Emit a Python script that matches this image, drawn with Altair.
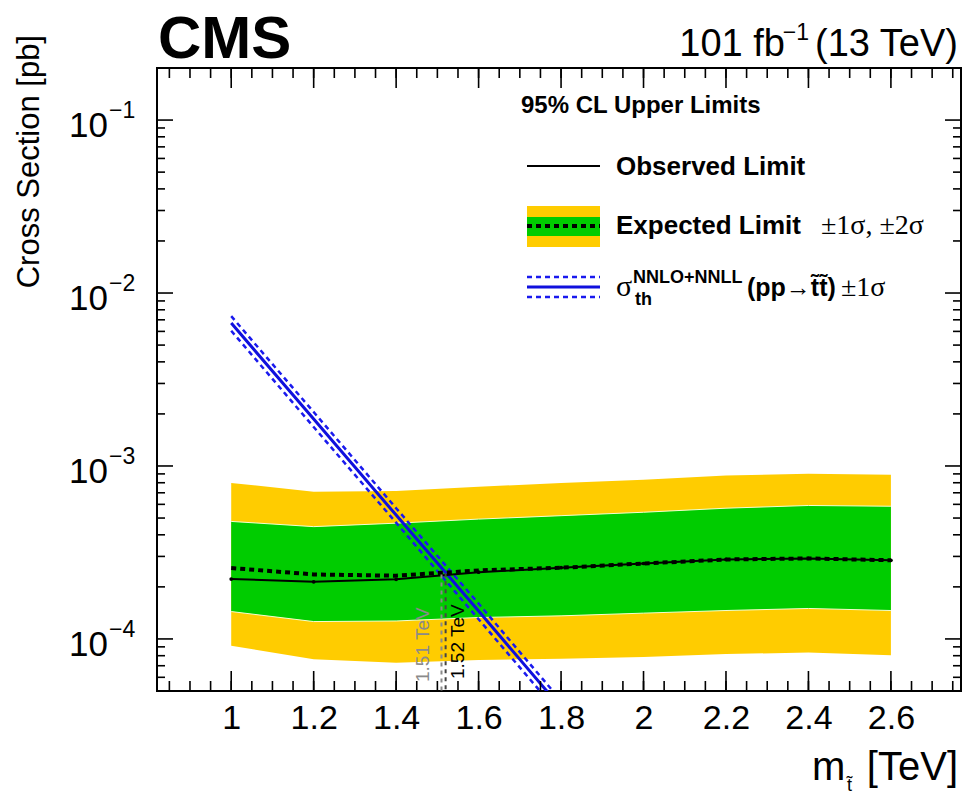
import altair as alt
import pandas as pd

# ---------------- data ----------------
mass = [1.0, 1.2, 1.4, 1.6, 1.8, 2.0, 2.2, 2.4, 2.6]
observed = [2.22e-4, 2.14e-4, 2.21e-4, 2.43e-4, 2.58e-4, 2.73e-4, 2.88e-4, 2.92e-4, 2.85e-4]
expected = [2.57e-4, 2.36e-4, 2.32e-4, 2.49e-4, 2.58e-4, 2.73e-4, 2.88e-4, 2.92e-4, 2.85e-4]
exp_p1 = [4.78e-4, 4.46e-4, 4.67e-4, 4.93e-4, 5.16e-4, 5.40e-4, 5.70e-4, 5.91e-4, 5.85e-4]
exp_m1 = [1.44e-4, 1.26e-4, 1.27e-4, 1.33e-4, 1.36e-4, 1.41e-4, 1.46e-4, 1.50e-4, 1.46e-4]
exp_p2 = [7.98e-4, 7.10e-4, 7.16e-4, 7.59e-4, 7.96e-4, 8.32e-4, 8.82e-4, 9.02e-4, 8.90e-4]
exp_m2 = [9.14e-5, 7.62e-5, 7.28e-5, 7.55e-5, 7.69e-5, 7.87e-5, 8.17e-5, 8.35e-5, 8.06e-5]

th_mass = [1.0, 1.2, 1.4, 1.6, 1.8]
th_xsec = [6.7e-3, 1.87e-3, 5.2e-4, 1.45e-4, 4.0e-5]
th_up = [7.35e-3, 2.05e-3, 5.7e-4, 1.6e-4, 4.4e-5]
th_dn = [6.05e-3, 1.68e-3, 4.7e-4, 1.3e-4, 3.6e-5]

cross_mass = [1.51, 1.52]
cross_xsec = [2.36e-4, 2.40e-4]
cross_labels = ["1.51 TeV", "1.52 TeV"]

x_major = [1.0, 1.2, 1.4, 1.6, 1.8, 2.0, 2.2, 2.4, 2.6]
x_minor = [round(0.85 + 0.05 * i, 2) for i in range(39)]
y_major = [1e-1, 1e-2, 1e-3, 1e-4]
y_exponents = ["\u22121", "\u22122", "\u22123", "\u22124"]
y_minor = [k * 10.0 ** e for e in (-5, -4, -3, -2, -1) for k in range(2, 10)
           if 5.2e-5 < k * 10.0 ** e < 0.19]

W, H = 804, 623
FONT = "Liberation Sans"
SERIF = "Liberation Serif"

xs = alt.Scale(domain=[0.82, 2.77], nice=False, zero=False)
ys = alt.Scale(type="log", domain=[5e-5, 0.2], nice=False)
xaxis = alt.Axis(values=x_major, format="~g", labelFont=FONT, labelFontSize=34,
                 labelColor="black", labelPadding=10, ticks=False, domain=False,
                 grid=False, title=None, labelOverlap=False, labelFlush=False)

band = pd.DataFrame({"mass": mass, "obs": observed, "exp": expected,
                     "p1": exp_p1, "m1": exp_m1, "p2": exp_p2, "m2": exp_m2})
th = pd.DataFrame({"mass": th_mass, "xs": th_xsec, "up": th_up, "dn": th_dn})
cross = pd.DataFrame({"mass": cross_mass, "xs": cross_xsec, "lab": cross_labels})


def X(f):
    return alt.X(f"{f}:Q", scale=xs, axis=xaxis)


def Y(f):
    return alt.Y(f"{f}:Q", scale=ys, axis=None)


base = alt.Chart(band)
yellow = base.mark_area(color="#FFCC00").encode(x=X("mass"), y=Y("m2"), y2="p2")
green = base.mark_area(color="#00CC00").encode(x=X("mass"), y=Y("m1"), y2="p1")
edge1 = base.mark_line(color="#F4FFD0", strokeWidth=1).encode(x=X("mass"), y=Y("p1"))
edge2 = base.mark_line(color="#F4FFD0", strokeWidth=1).encode(x=X("mass"), y=Y("m1"))
exp_line = base.mark_line(color="black", strokeWidth=4, strokeDash=[5, 4]).encode(x=X("mass"), y=Y("exp"))
obs_line = base.mark_line(color="black", strokeWidth=2).encode(x=X("mass"), y=Y("obs"))
obs_pts = base.mark_point(color="black", filled=True, size=14, opacity=1).encode(x=X("mass"), y=Y("obs"))

tb = alt.Chart(th)
th_up_l = tb.mark_line(color="#1a1aee", strokeWidth=2.5, strokeDash=[5, 4], clip=True).encode(x=X("mass"), y=Y("up"))
th_dn_l = tb.mark_line(color="#1a1aee", strokeWidth=2.5, strokeDash=[5, 4], clip=True).encode(x=X("mass"), y=Y("dn"))
th_l = tb.mark_line(color="#1010dd", strokeWidth=3, clip=True).encode(x=X("mass"), y=Y("xs"))

cb = alt.Chart(cross)
c1 = cb.transform_filter("datum.mass < 1.515")
c2 = cb.transform_filter("datum.mass > 1.515")
vl1 = c1.mark_rule(color="#8a8a8a", strokeWidth=2, strokeDash=[4, 4]).encode(x=X("mass"), y=Y("xs"), y2=alt.value(H))
vl2 = c2.mark_rule(color="#444444", strokeWidth=2, strokeDash=[4, 4]).encode(x=X("mass"), y=Y("xs"), y2=alt.value(H))
vt1 = c1.mark_text(angle=270, align="left", baseline="middle", font=FONT, fontSize=19,
                   color="#8a8a8a", xOffset=-18).encode(x=X("mass"), y=alt.value(614), text="lab:N")
vt2 = c2.mark_text(angle=270, align="left", baseline="middle", font=FONT, fontSize=19,
                   color="black", xOffset=12).encode(x=X("mass"), y=alt.value(611), text="lab:N")

# ticks inside frame
xmaj = alt.Chart(pd.DataFrame({"v": x_major}))
xmin = alt.Chart(pd.DataFrame({"v": x_minor}))
ymaj = alt.Chart(pd.DataFrame({"v": y_major, "e": y_exponents}))
ymin = alt.Chart(pd.DataFrame({"v": y_minor}))
tk = dict(color="black", strokeWidth=1.6)
ticks = [
    xmaj.mark_rule(**tk).encode(x=X("v"), y=alt.value(H), y2=alt.value(H - 20)),
    xmin.mark_rule(**tk).encode(x=X("v"), y=alt.value(H), y2=alt.value(H - 10)),
    xmaj.mark_rule(**tk).encode(x=X("v"), y=alt.value(0), y2=alt.value(20)),
    xmin.mark_rule(**tk).encode(x=X("v"), y=alt.value(0), y2=alt.value(10)),
    ymaj.mark_rule(**tk).encode(y=Y("v"), x=alt.value(0), x2=alt.value(16)),
    ymin.mark_rule(**tk).encode(y=Y("v"), x=alt.value(0), x2=alt.value(8)),
    ymaj.mark_rule(**tk).encode(y=Y("v"), x=alt.value(W), x2=alt.value(W - 16)),
    ymin.mark_rule(**tk).encode(y=Y("v"), x=alt.value(W), x2=alt.value(W - 8)),
]
ylab10 = ymaj.transform_calculate(t="'10'").mark_text(
    align="right", baseline="middle", font=FONT, fontSize=35, dy=6).encode(
    y=Y("v"), x=alt.value(-49), text="t:N")
ylabexp = ymaj.mark_text(align="left", baseline="middle", font=FONT, fontSize=23, dy=-9).encode(
    y=Y("v"), x=alt.value(-48), text="e:N")


def txt(s, x, y, size, weight="normal", font=FONT, align="left", baseline="middle", angle=0, color="black"):
    kw = dict(align=align, baseline=baseline, font=font, fontSize=size, fontWeight=weight, color=color)
    if angle:
        kw["angle"] = angle
    return alt.Chart(pd.DataFrame({"t": [s]})).mark_text(**kw).encode(
        x=alt.value(x), y=alt.value(y), text="t:N")


dummy = alt.Chart(pd.DataFrame({"d": [0]}))
legend = [
    txt("95% CL Upper Limits", 364, 38, 24, "bold"),
    dummy.mark_rule(color="black", strokeWidth=2).encode(x=alt.value(370), x2=alt.value(443), y=alt.value(98)),
    txt("Observed Limit", 459, 99, 26, "bold"),
    dummy.mark_rect(color="#FFCC00").encode(x=alt.value(370), x2=alt.value(443), y=alt.value(138), y2=alt.value(179)),
    dummy.mark_rect(color="#00CC00").encode(x=alt.value(370), x2=alt.value(443), y=alt.value(149), y2=alt.value(168)),
    dummy.mark_rule(color="black", strokeWidth=4, strokeDash=[5, 4]).encode(x=alt.value(370), x2=alt.value(443), y=alt.value(158)),
    txt("Expected Limit", 459, 158, 26, "bold"),
    txt("\u00b11\u03c3,  \u00b12\u03c3", 664, 158, 28, font=SERIF),
    dummy.mark_rule(color="#1a1aee", strokeWidth=2.5, strokeDash=[5, 4]).encode(x=alt.value(370), x2=alt.value(443), y=alt.value(209)),
    dummy.mark_rule(color="#1010dd", strokeWidth=3).encode(x=alt.value(370), x2=alt.value(443), y=alt.value(219)),
    dummy.mark_rule(color="#1a1aee", strokeWidth=2.5, strokeDash=[5, 4]).encode(x=alt.value(370), x2=alt.value(443), y=alt.value(229)),
    txt("\u03c3", 459, 219, 30, font=SERIF),
    txt("NNLO+NNLL", 476, 210, 18, "bold"),
    txt("th", 478, 232, 18, "bold"),
    txt("(pp\u2192t\u0303t\u0303)", 590, 220, 25, "bold"),
    txt("\u00b11\u03c3", 684, 220, 28, font=SERIF),
]

titles = [
    txt("CMS", 1, -10, 60, "bold", baseline="alphabetic"),
    txt("(13 TeV)", 801, -12, 38, align="right", baseline="alphabetic"),
    txt("\u22121", 652, -28, 23, align="right", baseline="alphabetic"),
    txt("101 fb", 628, -12, 38, align="right", baseline="alphabetic"),
    txt("Cross Section [pb]", -127, -33, 31, align="right", angle=270),
    txt("[TeV]", 801, 700, 40, align="right"),
    txt("m", 655, 700, 40),
    txt("t\u0303", 690, 718, 18),
]

chart = alt.layer(
    yellow, green, edge1, edge2, th_up_l, th_dn_l, th_l, exp_line, obs_line, obs_pts,
    vl1, vl2, vt1, vt2, *ticks, ylab10, ylabexp, *legend, *titles
).properties(
    width=W, height=H,
    padding={"left": 157, "top": 68, "right": 8, "bottom": 113},
    autosize=alt.AutoSizeParams(type="none"),
).configure_view(stroke="black", strokeWidth=2)

chart.save("out.html", embed_options={"renderer": "svg", "actions": False})
